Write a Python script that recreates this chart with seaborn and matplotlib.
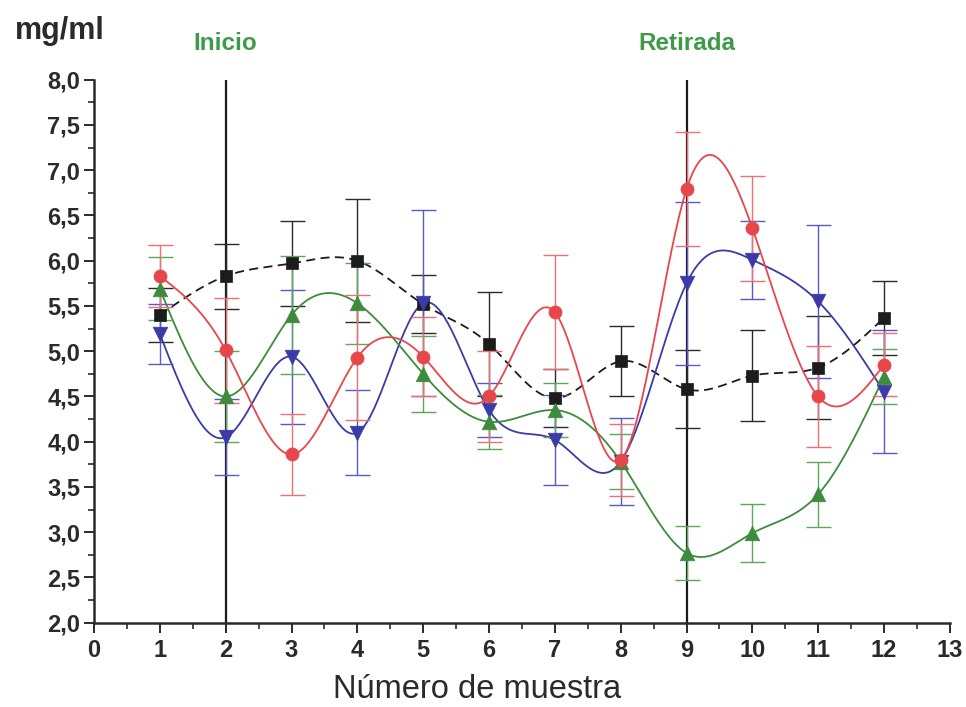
import numpy as np
import pandas as pd
import matplotlib
matplotlib.use("Agg")
import matplotlib.pyplot as plt
import seaborn as sns

# Sample numbers (x axis)
muestra = [1, 2, 3, 4, 5, 6, 7, 8, 9, 10, 11, 12]

# Mean concentration (mg/ml) per group, with error bar half-widths
negro = [5.40, 5.83, 5.97, 6.00, 5.52, 5.08, 4.48, 4.89, 4.58, 4.73, 4.82, 5.37]
negro_err = [0.30, 0.36, 0.47, 0.68, 0.32, 0.58, 0.32, 0.39, 0.43, 0.50, 0.57, 0.41]

rojo = [5.83, 5.01, 3.86, 4.93, 4.94, 4.50, 5.43, 3.80, 6.79, 6.36, 4.50, 4.85]
rojo_err = [0.34, 0.58, 0.45, 0.69, 0.44, 0.50, 0.63, 0.40, 0.63, 0.58, 0.56, 0.35]

verde = [5.69, 4.50, 5.40, 5.53, 4.75, 4.22, 4.35, 3.78, 2.77, 2.99, 3.42, 4.72]
verde_err = [0.35, 0.50, 0.65, 0.45, 0.42, 0.30, 0.30, 0.30, 0.30, 0.32, 0.36, 0.30]

azul = [5.19, 4.05, 4.94, 4.10, 5.53, 4.35, 4.02, 3.78, 5.75, 6.01, 5.55, 4.55]
azul_err = [0.33, 0.42, 0.74, 0.47, 1.03, 0.30, 0.50, 0.48, 0.90, 0.43, 0.85, 0.68]

# Event markers
eventos = {"Inicio": 2, "Retirada": 9}

x_ticks = list(range(0, 14))
y_ticks = [2.0, 2.5, 3.0, 3.5, 4.0, 4.5, 5.0, 5.5, 6.0, 6.5, 7.0, 7.5, 8.0]


def natural_spline(x, y, n=400):
    """Natural cubic spline through (x, y), evaluated on a dense grid."""
    x = np.asarray(x, float)
    y = np.asarray(y, float)
    k = len(x)
    h = np.diff(x)
    A = np.zeros((k, k))
    b = np.zeros(k)
    A[0, 0] = A[-1, -1] = 1.0
    for i in range(1, k - 1):
        A[i, i - 1] = h[i - 1]
        A[i, i] = 2 * (h[i - 1] + h[i])
        A[i, i + 1] = h[i]
        b[i] = 3 * ((y[i + 1] - y[i]) / h[i] - (y[i] - y[i - 1]) / h[i - 1])
    c = np.linalg.solve(A, b)
    bb = (np.diff(y) / h) - h * (2 * c[:-1] + c[1:]) / 3
    d = np.diff(c) / (3 * h)
    xs = np.linspace(x[0], x[-1], n)
    idx = np.clip(np.searchsorted(x, xs) - 1, 0, k - 2)
    dx = xs - x[idx]
    ys = y[idx] + bb[idx] * dx + c[idx] * dx ** 2 + d[idx] * dx ** 3
    return xs, ys


sns.set_theme(style="ticks")
plt.rcParams["font.family"] = ["Liberation Sans", "DejaVu Sans"]

fig = plt.figure(figsize=(9.66, 7.07), dpi=100)
ax = fig.add_axes([0.0973, 0.1192, 0.886, 0.768])

series = [
    ("negro", negro, negro_err, "#1c1c1c", "#2a2a2a", "s", (0, (5, 3)), 8),
    ("azul", azul, azul_err, "#3b3ba8", "#5a5ac4", "v", "-", 10),
    ("verde", verde, verde_err, "#3d8c3d", "#5aa85a", "^", "-", 10),
    ("rojo", rojo, rojo_err, "#e6474b", "#ef7074", "o", "-", 9),
]

# Event lines
for nombre, xv in eventos.items():
    ax.plot([xv, xv], [2.0, 8.0], color="#1a1a1a", lw=1.6, zorder=2)
    ax.text(xv, 8.0 + 0.40, nombre, ha="center", va="center",
            color="#3f9a48", fontsize=17.5, fontweight="bold", clip_on=False)

for z, (nombre, vals, errs, col, ecol, mk, ls, ms) in enumerate(series):
    xs, ys = natural_spline(muestra, vals)
    curva = pd.DataFrame({"x": xs, "y": ys})
    sns.lineplot(data=curva, x="x", y="y", ax=ax, color=col, lw=1.3,
                 linestyle=ls, zorder=3 + z)
    ax.errorbar(muestra, vals, yerr=errs, fmt="none", ecolor=ecol,
                elinewidth=1.0, capsize=9, capthick=1.0, zorder=3 + z)
    puntos = pd.DataFrame({"x": muestra, "y": vals})
    sns.scatterplot(data=puntos, x="x", y="y", ax=ax, marker=mk, color=col,
                    s=ms ** 2 * 1.1, edgecolor=col, linewidth=0.5,
                    zorder=10 + z)

ax.set_xlim(0, 13)
ax.set_ylim(2.0, 8.0)
ax.set_xticks(x_ticks)
ax.set_xticklabels([str(t) for t in x_ticks])
ax.set_yticks(y_ticks)
ax.set_yticklabels([f"{t:.1f}".replace(".", ",") for t in y_ticks])
ax.set_xticks(np.arange(0.5, 13, 1.0), minor=True)
ax.set_yticks(np.arange(2.25, 8.0, 0.5), minor=True)

for s in ["top", "right"]:
    ax.spines[s].set_visible(False)
for s in ["left", "bottom"]:
    ax.spines[s].set_linewidth(1.8)
    ax.spines[s].set_color("#2a2a2a")

ax.tick_params(axis="both", which="major", direction="out", length=7,
               width=1.4, color="#2a2a2a", labelsize=17, pad=3)
ax.tick_params(axis="both", which="minor", direction="out", length=4,
               width=1.2, color="#2a2a2a")
ax.tick_params(axis="x", which="major", pad=5)
for lab in ax.get_xticklabels() + ax.get_yticklabels():
    lab.set_fontweight("bold")
    lab.set_color("#2a2a2a")

ax.set_xlabel("")
ax.set_ylabel("")
fig.text(477 / 966, 1 - 690 / 707, "Número de muestra", ha="center",
         va="center", fontsize=23.5, color="#2a2a2a")
fig.text(15 / 966, 1 - 31 / 707, "mg/ml", ha="left", va="center",
         fontsize=22, fontweight="bold", color="#2a2a2a")

fig.savefig("out.png", dpi=100, facecolor="white")
